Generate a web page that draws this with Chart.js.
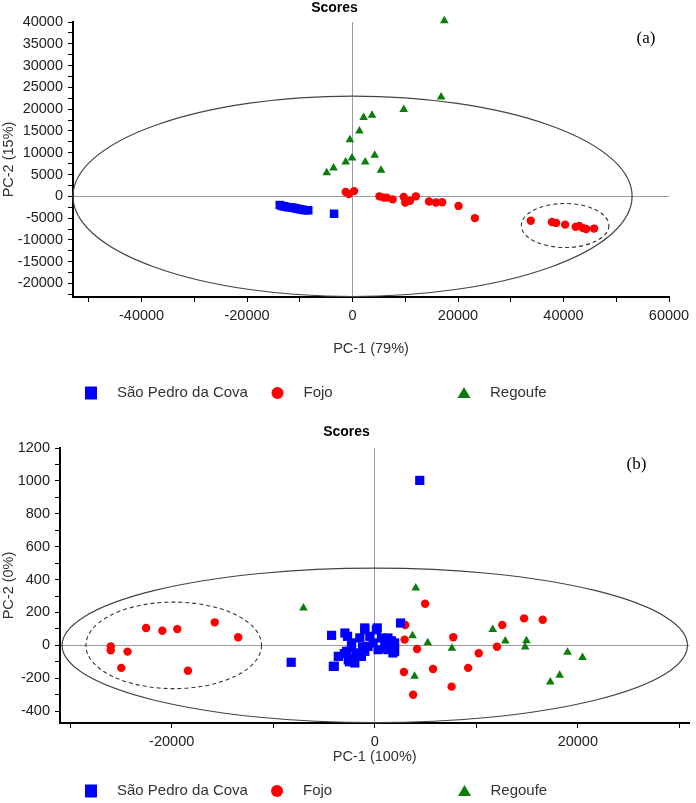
<!DOCTYPE html>
<html><head><meta charset="utf-8">
<script src="https://cdn.jsdelivr.net/npm/chart.js@4.4.1/dist/chart.umd.min.js"></script>
<style>
html,body{margin:0;padding:0;background:#fff;}
canvas{display:block;}
</style></head><body>
<canvas id="chartA" width="696" height="405"></canvas>
<canvas id="chartB" width="696" height="398"></canvas>
<script>
// ---------- shared ----------
const seriesNames = ['São Pedro da Cova', 'Fojo', 'Regoufe'];
const chartTitle = 'Scores';

// ---------- panel (a) ----------
const aSaoPedroX = [-13800,-13400,-13000,-12600,-12200,-11800,-11400,-11000,-10600,-10200,-9800,-9400,-8900,-8400,-3500];
const aSaoPedroY = [-2000,-2200,-2300,-2400,-2500,-2500,-2600,-2700,-2800,-2900,-3000,-3100,-3200,-3200,-4000];
const aFojoX = [-1300,-700,300,5100,5900,6500,7600,9700,10000,10900,12000,14500,15800,17000,20100,23200,33800,37800,38600,40300,42300,43000,43700,44300,45800];
const aFojoY = [1000,500,1200,0,-300,-300,-700,-150,-1450,-1000,0,-1200,-1400,-1350,-2200,-5000,-5600,-5900,-6100,-6500,-7000,-6800,-7300,-7500,-7400];
const aRegoufeX = [17400,16800,9700,2100,3700,1300,-500,4200,-100,2400,-1300,5400,-4900,-3600];
const aRegoufeY = [40300,22800,19900,18100,18600,15000,13000,9400,8800,7900,7900,6000,5400,6500];
const aEllipse = [0, 0, 53000, 23000];          // centre x, centre y, half-width, half-height
const aGroupEllipse = [40300, -6700, 8300, 5050];
const aXTickValues = [-50000,-40000,-30000,-20000,-10000,0,10000,20000,30000,40000,50000,60000];
const aXTickLabels = [-40000,-20000,0,20000,40000,60000];
const aYTickValues = [-22500,-20000,-17500,-15000,-12500,-10000,-7500,-5000,-2500,0,2500,5000,7500,10000,12500,15000,17500,20000,22500,25000,27500,30000,32500,35000,37500,40000];
const aYTickLabels = [-20000,-15000,-10000,-5000,0,5000,10000,15000,20000,25000,30000,35000,40000];
const aXTitle = 'PC-1 (79%)';
const aYTitle = 'PC-2 (15%)';
const aPanel = '(a)';

// ---------- panel (b) ----------
const bSaoPedroX = [-8230,4430,2540,-4250,-2940,-2680,-980,250,-1470,-490,1300,1960,980,660,1960,1300,330,-650,-2290,-2780,-1630,-3590,-4080,-2610,-2120,-1310,-980,-1960,-160,-2290,-980,160,1630,1790,-3980,1000,-2500,-1800,-3000,-1200];
const bSaoPedroY = [-103,1003,136,61,75,55,106,106,45,55,45,15,25,45,-36,-26,-26,-6,-16,-36,-46,-67,-128,-87,-77,-67,-36,-107,15,15,95,95,28,-46,-127,-18,-100,-60,-50,-10];
const bFojoX = [-26000,-26000,-24350,-24970,-22520,-20920,-19450,-18400,-15760,-13450,4960,3000,2940,4170,2870,3780,5740,7730,7570,9200,10240,12040,12560,14710,16540];
const bFojoY = [-6,-30,-38,-137,106,89,99,-154,140,49,253,124,35,-22,-162,-300,-144,49,-251,-137,-48,-8,124,164,156];
const bRegoufeX = [-7020,4040,3720,5220,3920,7600,11620,12860,14940,14810,18990,20460,18210,17290];
const bRegoufeY = [227,349,59,16,-188,-18,97,26,28,-10,-42,-73,-182,-222];
const bEllipse = [0, 0, 30800, 470];
const bGroupEllipse = [-19800, 0, 8650, 263];
const bXTickValues = [-30000,-20000,-10000,0,10000,20000,30000];
const bXTickLabels = [-20000,0,20000];
const bYTickValues = [-400,-300,-200,-100,0,100,200,300,400,500,600,700,800,900,1000,1100,1200];
const bYTickLabels = [-400,-200,0,200,400,600,800,1000,1200];
const bXTitle = 'PC-1 (100%)';
const bYTitle = 'PC-2 (0%)';
const bPanel = '(b)';

// ---------- drawing ----------
Chart.defaults.font.family = '"Liberation Sans", Arial, sans-serif';
const COLORS = ['#0000ff', '#ff0000', '#0a7d0a'];
const STYLES = ['rect', 'circle', 'triangle'];

function pts(xs, ys) { return xs.map((x, i) => ({ x: x, y: ys[i] })); }

function drawMarker(ctx, style, cx, cy, color) {
  ctx.fillStyle = color;
  ctx.beginPath();
  if (style === 'rect') ctx.rect(cx - 6, cy - 6.5, 12, 13);
  else if (style === 'circle') ctx.arc(cx, cy, 6, 0, Math.PI * 2);
  else { ctx.moveTo(cx, cy - 6); ctx.lineTo(cx + 6.5, cy + 5); ctx.lineTo(cx - 6.5, cy + 5); ctx.closePath(); }
  ctx.fill();
}

const decor = {
  id: 'decor',
  beforeDatasetsDraw(chart, args, o) {
    const { ctx, scales: { x, y } } = chart;
    ctx.save();
    (o.ellipses || []).forEach(e => {
      const v = e.v;
      const cx = x.getPixelForValue(v[0]), cy = y.getPixelForValue(v[1]);
      const rx = Math.abs(x.getPixelForValue(v[0] + v[2]) - cx);
      const ry = Math.abs(y.getPixelForValue(v[1] + v[3]) - cy);
      ctx.beginPath();
      ctx.setLineDash(e.dash || []);
      ctx.lineWidth = e.width;
      ctx.strokeStyle = e.color;
      ctx.ellipse(cx, cy, rx, ry, 0, 0, Math.PI * 2);
      ctx.stroke();
    });
    ctx.restore();
  },
  afterDraw(chart, args, o) {
    const { ctx, chartArea } = chart;
    ctx.save();
    ctx.fillStyle = '#000';
    ctx.font = '17px "Liberation Serif", "Times New Roman", serif';
    ctx.textAlign = 'center';
    ctx.textBaseline = 'middle';
    ctx.fillText(o.panel, chartArea.right + o.panelDx, chartArea.top + o.panelDy);
    // legend
    ctx.font = '15px "Liberation Sans", Arial, sans-serif';
    ctx.textAlign = 'left';
    chart.data.datasets.forEach((ds, i) => {
      const lx = o.legendX[i];
      drawMarker(ctx, STYLES[i], lx, o.legendY, COLORS[i]);
      ctx.fillStyle = '#333';
      ctx.fillText(ds.label, lx + 26, o.legendY);
    });
    ctx.restore();
  }
};

function axis(min, max, tickValues, tickLabels, title, size, isX) {
  return {
    type: 'linear', min: min, max: max,
    afterBuildTicks: s => { s.ticks = tickValues.map(v => ({ value: v })); },
    afterFit: s => { if (isX) s.height = size; else s.width = size; },
    ticks: {
      autoSkip: false, maxRotation: 0, padding: 5, color: '#222',
      font: { size: 14.5 },
      callback: v => tickLabels.includes(v) ? String(v) : ''
    },
    grid: {
      drawOnChartArea: true,
      color: c => (c.tick && c.tick.value === 0) ? '#9a9a9a' : 'rgba(0,0,0,0)',
      tickColor: '#000', tickLength: 5, lineWidth: 1
    },
    border: { display: true, color: '#000', width: 2 },
    title: { display: true, text: title, color: '#333', font: { size: 14.5 }, padding: { top: 0, bottom: 0 } }
  };
}

function datasets(sx, sy, fx, fy, rx, ry, sq) {
  const xs = [sx, fx, rx], ys = [sy, fy, ry];
  const radii = [sq, 4.2, 5];
  return seriesNames.map((name, i) => ({
    label: name,
    data: pts(xs[i], ys[i]),
    pointStyle: STYLES[i],
    pointRadius: radii[i],
    pointHoverRadius: radii[i],
    backgroundColor: COLORS[i],
    borderColor: COLORS[i],
    borderWidth: 0,
    showLine: false,
    clip: false
  }));
}

new Chart(document.getElementById('chartA'), {
  type: 'scatter',
  data: { datasets: datasets(aSaoPedroX, aSaoPedroY, aFojoX, aFojoY, aRegoufeX, aRegoufeY, 6) },
  options: {
    responsive: false, animation: false,
    layout: { padding: { left: 0, right: 27, top: 0, bottom: 47.3 } },
    plugins: {
      legend: { display: false },
      tooltip: { enabled: false },
      title: { display: true, text: chartTitle, color: '#000', font: { size: 14, weight: 'bold' }, padding: { top: 0, bottom: 5.2 } },
      decor: {
        ellipses: [
          { v: aEllipse, color: '#444', width: 1.2 },
          { v: aGroupEllipse, color: '#333', width: 1.1, dash: [4, 3] }
        ],
        panel: aPanel, panelDx: -23, panelDy: 17,
        legendX: [91, 277.5, 464], legendY: 393
      }
    },
    scales: {
      x: axis(-53000, 60000, aXTickValues, aXTickLabels, aXTitle, 60.7, true),
      y: axis(-23100, 40000, aYTickValues, aYTickLabels, aYTitle, 73, false)
    }
  },
  plugins: [decor]
});

new Chart(document.getElementById('chartB'), {
  type: 'scatter',
  data: { datasets: datasets(bSaoPedroX, bSaoPedroY, bFojoX, bFojoY, bRegoufeX, bRegoufeY, 6.5) },
  options: {
    responsive: false, animation: false,
    layout: { padding: { left: 0, right: 3, top: 0, bottom: 37.3 } },
    plugins: {
      legend: { display: false },
      tooltip: { enabled: false },
      title: { display: true, text: chartTitle, color: '#000', font: { size: 14, weight: 'bold' }, padding: { top: 18.6, bottom: 7.6 } },
      decor: {
        ellipses: [
          { v: bEllipse, color: '#444', width: 1.2 },
          { v: bGroupEllipse, color: '#333', width: 1.1, dash: [4, 3] }
        ],
        panel: bPanel, panelDx: -53, panelDy: 16.7,
        legendX: [91, 277, 464.5], legendY: 386
      }
    },
    scales: {
      x: axis(-31000, 31000, bXTickValues, bXTickLabels, bXTitle, 42.7, true),
      y: axis(-472, 1200, bYTickValues, bYTickLabels, bYTitle, 60, false)
    }
  },
  plugins: [decor]
});
</script>
</body></html>
